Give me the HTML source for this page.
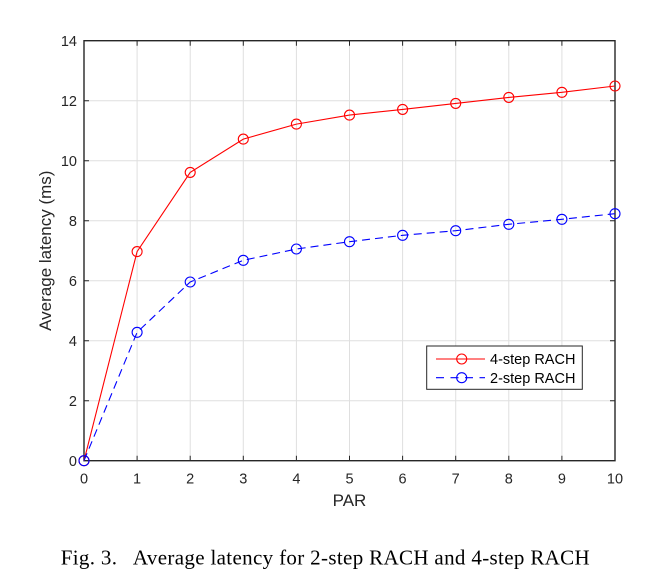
<!DOCTYPE html>
<html>
<head>
<meta charset="utf-8">
<style>
  html, body { margin: 0; padding: 0; background: #ffffff; }
  body { width: 648px; height: 586px; overflow: hidden; }
  svg { display: block; }
  .tick { font-family: "Liberation Sans", Arial, sans-serif; font-size: 14.5px; fill: #262626; }
  .lab { font-family: "Liberation Sans", Arial, sans-serif; font-size: 17px; fill: #262626; }
  .leg { font-family: "Liberation Sans", Arial, sans-serif; font-size: 14.5px; fill: #000; }
  .cap { font-family: "Liberation Serif", "Times New Roman", serif; font-size: 21px; fill: #000; }
</style>
</head>
<body>
<svg width="648" height="586" viewBox="0 0 648 586" xmlns="http://www.w3.org/2000/svg">
  <rect x="0" y="0" width="648" height="586" fill="#ffffff"/>
  <!-- grid -->
  <g stroke="#dfdfdf" stroke-width="1">
    <line x1="137.1" y1="40.7" x2="137.1" y2="460.7"/>
    <line x1="190.2" y1="40.7" x2="190.2" y2="460.7"/>
    <line x1="243.3" y1="40.7" x2="243.3" y2="460.7"/>
    <line x1="296.4" y1="40.7" x2="296.4" y2="460.7"/>
    <line x1="349.5" y1="40.7" x2="349.5" y2="460.7"/>
    <line x1="402.6" y1="40.7" x2="402.6" y2="460.7"/>
    <line x1="455.7" y1="40.7" x2="455.7" y2="460.7"/>
    <line x1="508.8" y1="40.7" x2="508.8" y2="460.7"/>
    <line x1="561.9" y1="40.7" x2="561.9" y2="460.7"/>
    <line x1="84" y1="400.7" x2="615" y2="400.7"/>
    <line x1="84" y1="340.7" x2="615" y2="340.7"/>
    <line x1="84" y1="280.7" x2="615" y2="280.7"/>
    <line x1="84" y1="220.7" x2="615" y2="220.7"/>
    <line x1="84" y1="160.7" x2="615" y2="160.7"/>
    <line x1="84" y1="100.7" x2="615" y2="100.7"/>
  </g>
  <!-- ticks -->
  <g stroke="#262626" stroke-width="1">
    <path d="M137.1 460.7v-5M190.2 460.7v-5M243.3 460.7v-5M296.4 460.7v-5M349.5 460.7v-5M402.6 460.7v-5M455.7 460.7v-5M508.8 460.7v-5M561.9 460.7v-5"/>
    <path d="M137.1 40.7v5M190.2 40.7v5M243.3 40.7v5M296.4 40.7v5M349.5 40.7v5M402.6 40.7v5M455.7 40.7v5M508.8 40.7v5M561.9 40.7v5"/>
    <path d="M84 400.7h5M84 340.7h5M84 280.7h5M84 220.7h5M84 160.7h5M84 100.7h5"/>
    <path d="M615 400.7h-5M615 340.7h-5M615 280.7h-5M615 220.7h-5M615 160.7h-5M615 100.7h-5"/>
  </g>
  <!-- axes box -->
  <rect x="84" y="40.7" width="531" height="420" fill="none" stroke="#262626" stroke-width="1.4"/>

  <!-- red series -->
  <polyline fill="none" stroke="#ff0000" stroke-width="1.1"
    points="84,460.7 137.1,251.6 190.2,172.4 243.3,139.1 296.4,124.1 349.5,115.1 402.6,109.4 455.7,103.4 508.8,97.4 561.9,92.3 615,86.0"/>
  <g fill="none" stroke="#ff0000" stroke-width="1.1">
    <circle cx="137.1" cy="251.6" r="5"/>
    <circle cx="190.2" cy="172.4" r="5"/>
    <circle cx="243.3" cy="139.1" r="5"/>
    <circle cx="296.4" cy="124.1" r="5"/>
    <circle cx="349.5" cy="115.1" r="5"/>
    <circle cx="402.6" cy="109.4" r="5"/>
    <circle cx="455.7" cy="103.4" r="5"/>
    <circle cx="508.8" cy="97.4" r="5"/>
    <circle cx="561.9" cy="92.3" r="5"/>
    <circle cx="615" cy="86.0" r="5"/>
    <circle cx="84" cy="460.7" r="5"/>
  </g>

  <!-- blue series -->
  <polyline fill="none" stroke="#0000ff" stroke-width="1.1" stroke-dasharray="8,5"
    points="84,460.7 137.1,332.3 190.2,282.0 243.3,260.3 296.4,249.0 349.5,241.7 402.6,235.3 455.7,230.7 508.8,224.3 561.9,219.3 615,213.7"/>
  <g fill="none" stroke="#0000ff" stroke-width="1.1">
    <circle cx="84" cy="460.7" r="5"/>
    <circle cx="137.1" cy="332.3" r="5"/>
    <circle cx="190.2" cy="282.0" r="5"/>
    <circle cx="243.3" cy="260.3" r="5"/>
    <circle cx="296.4" cy="249.0" r="5"/>
    <circle cx="349.5" cy="241.7" r="5"/>
    <circle cx="402.6" cy="235.3" r="5"/>
    <circle cx="455.7" cy="230.7" r="5"/>
    <circle cx="508.8" cy="224.3" r="5"/>
    <circle cx="561.9" cy="219.3" r="5"/>
    <circle cx="615" cy="213.7" r="5"/>
  </g>

  <!-- x tick labels -->
  <g class="tick" text-anchor="middle">
    <text x="84" y="483.5">0</text>
    <text x="137.1" y="483.5">1</text>
    <text x="190.2" y="483.5">2</text>
    <text x="243.3" y="483.5">3</text>
    <text x="296.4" y="483.5">4</text>
    <text x="349.5" y="483.5">5</text>
    <text x="402.6" y="483.5">6</text>
    <text x="455.7" y="483.5">7</text>
    <text x="508.8" y="483.5">8</text>
    <text x="561.9" y="483.5">9</text>
    <text x="615" y="483.5">10</text>
  </g>
  <!-- y tick labels -->
  <g class="tick" text-anchor="end">
    <text x="77" y="466">0</text>
    <text x="77" y="406">2</text>
    <text x="77" y="346">4</text>
    <text x="77" y="286">6</text>
    <text x="77" y="226">8</text>
    <text x="77" y="166">10</text>
    <text x="77" y="106">12</text>
    <text x="77" y="46">14</text>
  </g>

  <!-- axis labels -->
  <text class="lab" x="349.5" y="506" text-anchor="middle">PAR</text>
  <text class="lab" x="0" y="0" text-anchor="middle" transform="translate(51,250.7) rotate(-90)">Average latency (ms)</text>

  <!-- legend -->
  <rect x="426.7" y="346" width="155.6" height="43.3" fill="#ffffff" stroke="#262626" stroke-width="1"/>
  <line x1="436" y1="359" x2="485" y2="359" stroke="#ff0000" stroke-width="1.1"/>
  <circle cx="461.7" cy="359" r="5" fill="none" stroke="#ff0000" stroke-width="1.1"/>
  <line x1="436" y1="377.7" x2="485" y2="377.7" stroke="#0000ff" stroke-width="1.1" stroke-dasharray="8,6.5"/>
  <circle cx="461.7" cy="377.7" r="5" fill="none" stroke="#0000ff" stroke-width="1.1"/>
  <text class="leg" x="490" y="364.2">4-step RACH</text>
  <text class="leg" x="490" y="383">2-step RACH</text>

  <!-- caption -->
  <text class="cap" x="60.7" y="564.3" textLength="529" lengthAdjust="spacing" xml:space="preserve">Fig. 3.   Average latency for 2-step RACH and 4-step RACH</text>
</svg>
</body>
</html>
